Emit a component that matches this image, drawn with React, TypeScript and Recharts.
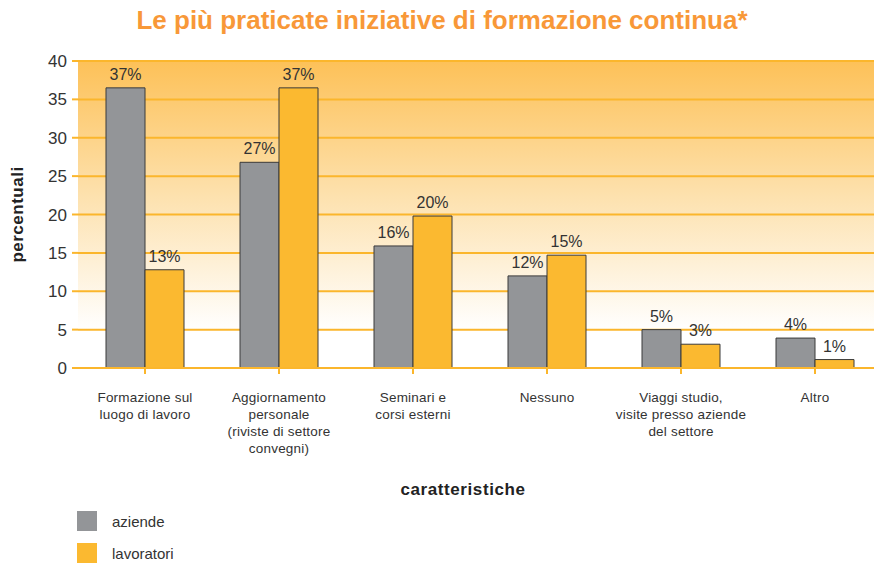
import React from "react";
import { BarChart, Bar, XAxis, YAxis, CartesianGrid, LabelList, Legend, Label } from "recharts";

const categories = [
  ["Formazione sul", "luogo di lavoro"],
  ["Aggiornamento", "personale", "(riviste di settore", "convegni)"],
  ["Seminari e", "corsi esterni"],
  ["Nessuno"],
  ["Viaggi studio,", "visite presso aziende", "del settore"],
  ["Altro"],
];
const aziende = [36.5, 26.8, 15.9, 12.0, 5.0, 3.9];
const lavoratori = [12.8, 36.5, 19.8, 14.7, 3.1, 1.1];
const aziendeLabels = ["37%", "27%", "16%", "12%", "5%", "4%"];
const lavoratoriLabels = ["13%", "37%", "20%", "15%", "3%", "1%"];
const yTicks = [0, 5, 10, 15, 20, 25, 30, 35, 40];

const data = categories.map((c, i) => ({
  name: c.join(" "),
  aziende: aziende[i],
  lavoratori: lavoratori[i],
  aLabel: aziendeLabels[i],
  lLabel: lavoratoriLabels[i],
}));

const GRAY = "#939598";
const ORANGE = "#fbb930";
const GRID = "#fbb62c";
const TEXT = "#333333";
const FONT = "'Liberation Sans', Arial, sans-serif";

const XTick = (props: any) => {
  const { x, y, payload, index } = props;
  const lines = categories[index] || [payload.value];
  return (
    <g>
      {lines.map((l: string, i: number) => (
        <text key={i} x={x} y={y + 26 + i * 17} textAnchor="middle" fontSize={13.5} letterSpacing={0.2} fill={TEXT} fontFamily={FONT}>
          {l}
        </text>
      ))}
    </g>
  );
};

const LegendContent = () => {
  const items = [
    { label: "aziende", color: GRAY },
    { label: "lavoratori", color: ORANGE },
  ];
  return (
    <div style={{ fontFamily: FONT }}>
      {items.map((it) => (
        <div key={it.label} style={{ display: "flex", alignItems: "center", height: 32 }}>
          <div style={{ width: 20, height: 20, background: it.color }} />
          <span style={{ marginLeft: 15, fontSize: 15, color: TEXT }}>{it.label}</span>
        </div>
      ))}
    </div>
  );
};

export default function App() {
  return (
    <div style={{ position: "absolute", left: 0, top: 0, width: 874, height: 563, overflow: "hidden", background: "#fff" }}>
      <div
        style={{
          position: "absolute",
          top: 5,
          left: 0,
          width: 884,
          textAlign: "center",
          fontFamily: FONT,
          fontWeight: "bold",
          fontSize: 26,
          color: "#f89838",
        }}
      >
        Le più praticate iniziative di formazione continua*
      </div>
      <BarChart
        width={890}
        height={563}
        data={data}
        margin={{ top: 61, right: 8, left: 0, bottom: 0 }}
        barGap={0}
        barSize={39}
      >
        <defs>
          <linearGradient id="bgGrad" x1="0" y1="0" x2="0" y2="1">
            <stop offset="0%" stopColor="#fdc158" />
            <stop offset="45%" stopColor="#fde2b0" />
            <stop offset="88%" stopColor="#ffffff" />
            <stop offset="100%" stopColor="#ffffff" />
          </linearGradient>
        </defs>
        <CartesianGrid vertical={false} stroke={GRID} strokeWidth={2} fill="url(#bgGrad)" fillOpacity={1} />
        <XAxis
          dataKey="name"
          height={195}
          tick={<XTick />}
          tickLine={{ stroke: GRID, strokeWidth: 2 }}
          tickSize={6}
          axisLine={{ stroke: GRID, strokeWidth: 2 }}
          interval={0}
        >
          <Label
            content={(p: any) => (
              <text
                x={p.viewBox.x + p.viewBox.width / 2 - 17}
                y={p.viewBox.y + 127}
                textAnchor="middle"
                fontSize={17}
                letterSpacing={0.6}
                fontWeight="bold"
                fill="#222"
                fontFamily={FONT}
              >
                caratteristiche
              </text>
            )}
          />
        </XAxis>
        <YAxis
          width={78}
          domain={[0, 40]}
          ticks={yTicks}
          interval={0}
          axisLine={false}
          tickLine={{ stroke: GRID, strokeWidth: 2 }}
          tickSize={6}
          tickMargin={5}
          tick={{ fontSize: 17, fill: TEXT, fontFamily: FONT }}
        >
          <Label
            content={(p: any) => (
              <text
                x={17}
                y={p.viewBox.y + p.viewBox.height / 2}
                transform={`rotate(-90, 17, ${p.viewBox.y + p.viewBox.height / 2})`}
                textAnchor="middle"
                dominantBaseline="central"
                fontSize={17}
                letterSpacing={0.5}
                fontWeight="bold"
                fill="#222"
                fontFamily={FONT}
              >
                percentuali
              </text>
            )}
          />
        </YAxis>
        <Bar dataKey="aziende" fill={GRAY} stroke="#3a3a3a" strokeWidth={1} isAnimationActive={false}>
          <LabelList dataKey="aLabel" position="top" offset={8} fill={TEXT} fontSize={16} fontFamily={FONT} />
        </Bar>
        <Bar dataKey="lavoratori" fill={ORANGE} stroke="#3a3a3a" strokeWidth={1} isAnimationActive={false}>
          <LabelList dataKey="lLabel" position="top" offset={8} fill={TEXT} fontSize={16} fontFamily={FONT} />
        </Bar>
        <Legend
          layout="vertical"
          align="center"
          verticalAlign="middle"
          content={<LegendContent />}
          wrapperStyle={{ left: 77, top: 505, width: 200, height: 64 }}
        />
      </BarChart>
    </div>
  );
}
